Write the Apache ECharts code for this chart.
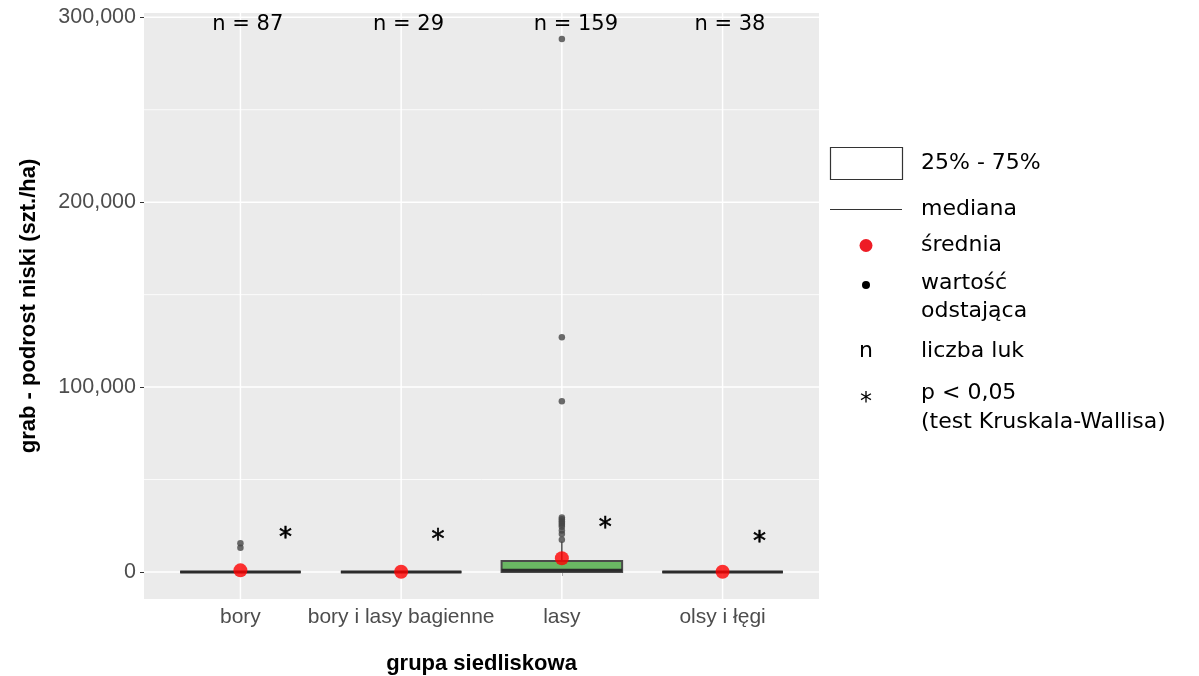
<!DOCTYPE html>
<html>
<head>
<meta charset="utf-8">
<script src="https://cdn.jsdelivr.net/npm/echarts@6/dist/echarts.min.js"></script>
<style>
html, body { margin: 0; padding: 0; background: #ffffff; }
#chart { width: 1199px; height: 676px; }
</style>
</head>
<body>
<div id="chart"></div>
<script>
// ---------------- data ----------------
const categories = ['bory', 'bory i lasy bagienne', 'lasy', 'olsy i łęgi'];
const nCounts = [87, 29, 159, 38];
// [lower whisker, Q1, median, Q3, upper whisker]
const boxBory = [0, 0, 0, 0, 0];
const boxBoryBagienne = [0, 0, 0, 0, 0];
const boxLasy = [0, 0, 1000, 6000, 16500];
const boxOlsy = [0, 0, 0, 0, 0];
const means = [900, 150, 7400, 150];
const outlierCategory = [1, 1, 3, 3, 3, 3, 3, 3, 3, 3, 3, 3, 3, 3];
const outlierValues = [15500, 13100, 288200, 127000, 92300, 29500, 28500, 27500, 26500, 25500, 24500, 22500, 20500, 17500];
const sigX = [1.28, 2.23, 3.27, 4.23];
const sigY = [21200, 20000, 26300, 18900];
const nLabelValue = 296300;
const yTickValues = [0, 100000, 200000, 300000];
const yMinorValues = [50000, 150000, 250000];
const xTickValues = [1, 2, 3, 4];

// ---------------- styling constants ----------------
const BOX_HALF = 0.375;
const N_LABEL_DX = -0.175;
const boxFills = ['#ffffff', '#ffffff', '#6ab763', '#ffffff'];
const SANS = '"Liberation Sans", Arial, sans-serif';
const VERD = '"DejaVu Sans", Verdana, sans-serif';

const boxStats = [boxBory, boxBoryBagienne, boxLasy, boxOlsy];
const boxData = boxStats.map((s, i) => [i + 1].concat(s));
const meanData = means.map((m, i) => [i + 1, m]);
const outlierData = outlierValues.map((v, i) => [outlierCategory[i], v]);
const nData = nCounts.map((n, i) => [i + 1, nLabelValue, n]);
const sigData = sigX.map((x, i) => [x, sigY[i]]);

const fmt = v => String(v).replace(/\B(?=(\d{3})+(?!\d))/g, ',');

const chart = echarts.init(document.getElementById('chart'), null, { renderer: 'canvas' });

function hLineSeries(values, width) {
  return {
    type: 'custom', z: 1, silent: true,
    data: values.map(v => [v]),
    encode: { y: 0 },
    renderItem: (params, api) => {
      const v = api.value(0);
      const a = api.coord([0.4, v]);
      const b = api.coord([4.6, v]);
      return { type: 'line', shape: { x1: a[0], y1: a[1], x2: b[0], y2: b[1] },
               style: { stroke: '#ffffff', lineWidth: width } };
    }
  };
}

const option = {
  animation: false,
  backgroundColor: '#ffffff',
  grid: {
    left: 144, right: 380, top: 13, bottom: 77,
    outerBoundsMode: 'none', containLabel: false,
    show: true, backgroundColor: '#ebebeb', borderWidth: 0
  },
  xAxis: {
    type: 'value', min: 0.4, max: 4.6,
    name: 'grupa siedliskowa', nameLocation: 'middle', nameGap: 54,
    nameTextStyle: { fontFamily: SANS, fontSize: 22, fontWeight: 'bold', color: '#000000' },
    axisLine: { show: false },
    axisTick: { show: true, customValues: xTickValues, length: 4, lineStyle: { color: '#333333', width: 1 } },
    axisLabel: { customValues: xTickValues, margin: 8, fontFamily: SANS, fontSize: 21, color: '#4d4d4d',
                 formatter: v => categories[Math.round(v) - 1] },
    splitLine: { show: false }
  },
  yAxis: {
    type: 'value', min: -14600, max: 302300,
    name: 'grab - podrost niski (szt./ha)', nameLocation: 'middle', nameGap: 104, nameRotate: 90,
    nameTextStyle: { fontFamily: SANS, fontSize: 22, fontWeight: 'bold', color: '#000000' },
    axisLine: { show: false },
    axisTick: { show: true, customValues: yTickValues, length: 4, lineStyle: { color: '#333333', width: 1 } },
    axisLabel: { customValues: yTickValues, margin: 8, fontFamily: SANS, fontSize: 21.5, color: '#4d4d4d',
                 formatter: v => fmt(v) },
    splitLine: { show: false }
  },
  series: [
    hLineSeries(yMinorValues, 0.8),
    hLineSeries(yTickValues, 1.5),
    {
      type: 'custom', z: 1, silent: true,
      data: xTickValues.map(v => [v]),
      encode: { x: 0 },
      renderItem: (params, api) => {
        const v = api.value(0);
        const a = api.coord([v, -14600]);
        const b = api.coord([v, 302300]);
        return { type: 'line', shape: { x1: a[0], y1: a[1], x2: b[0], y2: b[1] },
                 style: { stroke: '#ffffff', lineWidth: 1.5 } };
      }
    },
    {
      type: 'custom', z: 3, silent: true,
      data: boxData,
      encode: { x: 0, y: [1, 2, 3, 4, 5] },
      renderItem: (params, api) => {
        const x = api.value(0);
        const lo = api.value(1), q1 = api.value(2), med = api.value(3), q3 = api.value(4), hi = api.value(5);
        const tl = api.coord([x - BOX_HALF, q3]);
        const br = api.coord([x + BOX_HALF, q1]);
        const m1 = api.coord([x - BOX_HALF, med]);
        const m2 = api.coord([x + BOX_HALF, med]);
        const c = api.coord([x, q3]);
        const wt = api.coord([x, hi]);
        const cb = api.coord([x, q1]);
        const wb = api.coord([x, lo]);
        const children = [];
        if (hi > q3) children.push({ type: 'line', shape: { x1: c[0], y1: c[1], x2: wt[0], y2: wt[1] },
                                     style: { stroke: '#333333', lineWidth: 1.3 } });
        if (lo < q1) children.push({ type: 'line', shape: { x1: cb[0], y1: cb[1], x2: wb[0], y2: wb[1] },
                                     style: { stroke: '#333333', lineWidth: 1.3 } });
        children.push({ type: 'rect', shape: { x: tl[0], y: tl[1], width: br[0] - tl[0], height: br[1] - tl[1] },
                        style: { fill: boxFills[params.dataIndex], stroke: '#4a4a4a', lineWidth: 2 } });
        children.push({ type: 'line', shape: { x1: m1[0], y1: m1[1], x2: m2[0], y2: m2[1] },
                        style: { stroke: '#2b2b2b', lineWidth: 3 } });
        return { type: 'group', children };
      }
    },
    {
      type: 'scatter', z: 4, silent: true,
      data: outlierData,
      symbol: 'circle', symbolSize: 6.5,
      itemStyle: { color: '#464646' }
    },
    {
      type: 'scatter', z: 5, silent: true,
      data: meanData,
      symbol: 'circle', symbolSize: 14,
      itemStyle: { color: '#ff0000' }
    },
    {
      type: 'custom', z: 6, silent: true,
      data: nData,
      encode: { x: 0, y: 1 },
      renderItem: (params, api) => {
        const p = api.coord([api.value(0) + N_LABEL_DX, api.value(1)]);
        return { type: 'text', x: p[0], y: p[1],
                 style: { text: 'n = ' + api.value(2), fontFamily: VERD, fontSize: 21, fill: '#000000',
                          align: 'left', verticalAlign: 'middle' } };
      }
    },
    {
      type: 'custom', z: 6, silent: true,
      data: sigData,
      encode: { x: 0, y: 1 },
      renderItem: (params, api) => {
        const p = api.coord([api.value(0), api.value(1)]);
        return { type: 'text', x: p[0], y: p[1] + 6,
                 style: { text: '*', fontFamily: VERD, fontSize: 26, fill: '#000000',
                          stroke: '#000000', lineWidth: 0.6,
                          align: 'center', verticalAlign: 'middle' } };
      }
    }
  ],
  graphic: [
    { type: 'rect', shape: { x: 830.5, y: 147.5, width: 72, height: 32 },
      style: { fill: '#ffffff', stroke: '#333333', lineWidth: 1.2 } },
    { type: 'text', x: 921, y: 163, style: { text: '25% - 75%', fontFamily: VERD, fontSize: 22, fill: '#000', verticalAlign: 'middle' } },
    { type: 'line', shape: { x1: 830, y1: 209.5, x2: 902, y2: 209.5 }, style: { stroke: '#333333', lineWidth: 1.2 } },
    { type: 'text', x: 921, y: 209, style: { text: 'mediana', fontFamily: VERD, fontSize: 22, fill: '#000', verticalAlign: 'middle' } },
    { type: 'circle', shape: { cx: 866, cy: 245.5, r: 6.5 }, style: { fill: '#ee1c25' } },
    { type: 'text', x: 921, y: 245, style: { text: 'średnia', fontFamily: VERD, fontSize: 22, fill: '#000', verticalAlign: 'middle' } },
    { type: 'circle', shape: { cx: 866, cy: 285, r: 4 }, style: { fill: '#000000' } },
    { type: 'text', x: 921, y: 283, style: { text: 'wartość', fontFamily: VERD, fontSize: 22, fill: '#000', verticalAlign: 'middle' } },
    { type: 'text', x: 921, y: 311, style: { text: 'odstająca', fontFamily: VERD, fontSize: 22, fill: '#000', verticalAlign: 'middle' } },
    { type: 'text', x: 866, y: 351, style: { text: 'n', fontFamily: VERD, fontSize: 22, fill: '#000', align: 'center', verticalAlign: 'middle' } },
    { type: 'text', x: 921, y: 351, style: { text: 'liczba luk', fontFamily: VERD, fontSize: 22, fill: '#000', verticalAlign: 'middle' } },
    { type: 'text', x: 866, y: 403, style: { text: '*', fontFamily: VERD, fontSize: 24, fill: '#000', align: 'center', verticalAlign: 'middle' } },
    { type: 'text', x: 921, y: 393, style: { text: 'p < 0,05', fontFamily: VERD, fontSize: 22, fill: '#000', verticalAlign: 'middle' } },
    { type: 'text', x: 921, y: 422, style: { text: '(test Kruskala-Wallisa)', fontFamily: VERD, fontSize: 22, fill: '#000', verticalAlign: 'middle' } }
  ]
};
chart.setOption(option);
</script>
</body>
</html>
